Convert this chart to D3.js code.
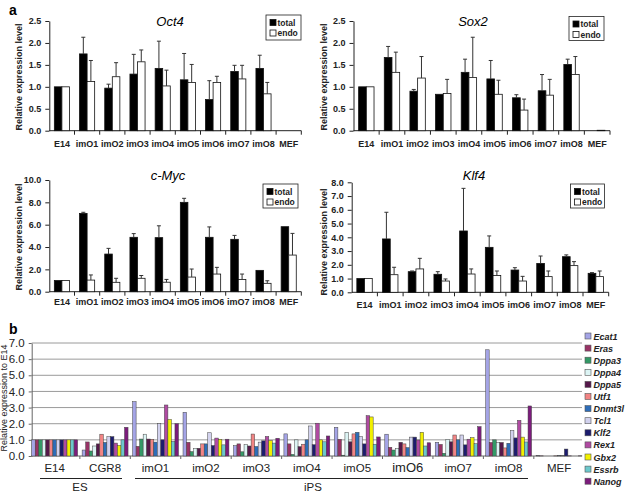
<!DOCTYPE html>
<html><head><meta charset="utf-8">
<script src="https://cdn.jsdelivr.net/npm/d3@7"></script>
<style>body{margin:0;background:#fff} svg{display:block} text{font-family:"Liberation Sans",Arial,sans-serif}</style>
</head><body>
<svg id="c" width="625" height="493"></svg>
<script>
// ---------- Panel a data ----------
const cellLines = ["E14","imO1","imO2","imO3","imO4","imO5","imO6","imO7","imO8","MEF"];
const seriesNames = ["total","endo"];

const oct4Total    = [1.00, 1.75, 0.97, 1.29, 1.42, 1.16, 0.71, 1.35, 1.42, 0];
const oct4TotalErr = [0, 0.38, 0.09, 0.45, 0.62, 0.60, 0.43, 0.14, 0.30, 0];
const oct4Endo     = [1.00, 1.12, 1.23, 1.57, 1.02, 1.10, 1.10, 1.18, 0.84, 0];
const oct4EndoErr  = [0, 0.48, 0.32, 0.27, 0.36, 0.41, 0.14, 0.31, 0.26, 0];

const sox2Total    = [1.00, 1.67, 0.90, 0.83, 1.33, 1.18, 0.75, 0.91, 1.51, 0];
const sox2TotalErr = [0, 0.25, 0.04, 0, 0.30, 0.42, 0.07, 0.37, 0.12, 0];
const sox2Endo     = [1.00, 1.33, 1.20, 0.85, 1.21, 0.83, 0.47, 0.81, 1.28, 0.01];
const sox2EndoErr  = [0, 0.46, 0.49, 0.32, 0.92, 0.32, 0.25, 0.36, 0.41, 0];

const mycTotal     = [1.0, 7.01, 3.37, 4.87, 4.84, 8.0, 4.87, 4.69, 1.91, 5.82];
const mycTotalErr  = [0, 0.10, 0.51, 0.33, 1.06, 0.36, 0.93, 0.35, 0, 0];
const mycEndo      = [1.0, 1.04, 0.84, 1.20, 0.85, 1.31, 1.58, 1.10, 0.75, 3.28];
const mycEndoErr   = [0, 0.46, 0.36, 0.25, 0.25, 0.72, 0.60, 0.48, 0.23, 1.94];

const klf4Total    = [1.0, 3.88, 1.50, 1.31, 4.46, 3.27, 1.62, 2.10, 2.59, 1.38];
const klf4TotalErr = [0, 1.94, 0.05, 0.19, 3.10, 0.83, 0.17, 0.54, 0.13, 0.05];
const klf4Endo     = [1.0, 1.28, 1.70, 0.82, 1.33, 1.22, 0.82, 1.14, 1.94, 1.14];
const klf4EndoErr  = [0, 0.54, 0.77, 0.15, 0.37, 0.33, 0.34, 0.41, 0.29, 0.41];

// ---------- Panel b data ----------
const samples = ["E14","CGR8","imO1","imO2","imO3","imO4","imO5","imO6","imO7","imO8","MEF"];
const genes = ["Ecat1","Eras","Dppa3","Dppa4","Dppa5","Utf1","Dnmt3l","Tcl1","Klf2","Rex1","Gbx2","Essrb","Nanog"];
const ecat1  = [1, 0.37, 3.37, 2.71, 0.64, 1.37, 1.78, 1.35, 0.85, 6.58, 0.03];
const eras   = [1, 0.87, 0.60, 0.85, 0.75, 0.75, 1.03, 0.54, 0.72, 0.84, 0.01];
const dppa3  = [1, 0.31, 1.05, 0.27, 0.26, 0.10, 0.05, 0.37, 0.17, 1.00, 0];
const dppa4  = [1, 0.62, 1.35, 0.46, 0.70, 1.00, 1.46, 0.46, 1.03, 0.84, 0];
const dppa5  = [1, 0.75, 1.05, 0.48, 0.62, 0.58, 0.88, 0.85, 0.88, 0.84, 0];
const utf1   = [1, 1.35, 1.03, 0.75, 1.36, 0.73, 1.37, 0.75, 1.30, 0.50, 0.01];
const dnmt3l = [1, 0.84, 0.86, 0.75, 0.59, 1.00, 1.47, 0.52, 1.00, 0.79, 0.02];
const tcl1   = [1, 1.20, 2.00, 1.44, 0.86, 1.86, 1.20, 1.17, 1.30, 1.58, 0.03];
const klf2   = [1, 1.20, 1.00, 0.65, 0.94, 0.70, 0.75, 1.17, 0.69, 1.12, 0.43];
const rex1   = [1, 0.80, 3.16, 1.11, 1.21, 2.03, 2.50, 0.99, 1.04, 2.21, 0.01];
const gbx2   = [1, 0.66, 2.26, 1.03, 0.96, 1.00, 2.42, 1.47, 1.14, 1.17, 0];
const essrb  = [1, 1.00, 0.90, 0.69, 0.80, 0.88, 0.73, 0.62, 0.76, 0.87, 0];
const nanog  = [1, 1.78, 2.00, 1.04, 1.10, 1.24, 1.18, 0.82, 1.82, 3.10, 0.01];
const geneValues = [ecat1, eras, dppa3, dppa4, dppa5, utf1, dnmt3l, tcl1, klf2, rex1, gbx2, essrb, nanog];
const geneColors = ["#a4a4e6","#993366","#339966","#dcf4f4","#55184a","#f28484","#2e6db8","#d2d2ee","#1c1c6e","#b04aa2","#f2f000","#6cc8cc","#7c1c7c"];
const bTicks = [0,1,2,3,4,5,6,7];

const svg = d3.select("#c");

// ---------- Panel a ----------
function panelA(c) {
  const g = svg.append("g");
  const x = d3.scaleBand().domain(cellLines).range([c.x0, c.x0 + 10 * c.step]).paddingInner(0.4).paddingOuter(0.2);
  const xs = d3.scaleBand().domain(seriesNames).range([0, x.bandwidth()]);
  const y = d3.scaleLinear().domain([0, c.max]).range([c.yBot, c.yTop]);

  const ax = g.append("g").attr("transform", `translate(${c.x0},0)`)
    .call(d3.axisLeft(y).tickValues(d3.range(0, c.max + 1e-9, c.tickStep)).tickFormat(d3.format(".1f")).tickSize(4).tickSizeOuter(0));
  ax.selectAll("text").attr("font-size", 9).attr("font-weight", "bold").attr("fill", "#222").attr("dx", -1);
  ax.selectAll("line,path").attr("stroke", "#222");

  // x axis
  g.append("line").attr("x1", c.x0).attr("x2", c.x0 + 10 * c.step).attr("y1", c.yBot).attr("y2", c.yBot).attr("stroke", "#222");
  g.selectAll(".xt").data(cellLines).join("line")
    .attr("x1", d => x(d) + x.bandwidth() / 2 + c.step / 2).attr("x2", d => x(d) + x.bandwidth() / 2 + c.step / 2)
    .attr("y1", c.yBot).attr("y2", c.yBot + 4).attr("stroke", "#222");
  g.selectAll(".xl").data(cellLines).join("text")
    .attr("x", d => x(d) + x.bandwidth() / 2).attr("y", c.labelY)
    .attr("text-anchor", "middle").attr("font-size", 9).attr("font-weight", "bold").attr("fill", "#222").text(d => d);

  const rows = cellLines.map((d, i) => [
    {cat: d, s: "total", v: c.total[i], e: c.totalErr[i]},
    {cat: d, s: "endo", v: c.endo[i], e: c.endoErr[i]}
  ]).flat();

  g.selectAll(".bar").data(rows).join("rect")
    .attr("x", d => x(d.cat) + xs(d.s)).attr("width", xs.bandwidth())
    .attr("y", d => y(d.v)).attr("height", d => y(0) - y(d.v))
    .attr("fill", d => d.s === "total" ? "#000" : "#fff").attr("stroke", "#111").attr("stroke-width", 0.8);

  const eb = rows.filter(d => d.e > 0);
  g.selectAll(".ew").data(eb).join("line")
    .attr("x1", d => x(d.cat) + xs(d.s) + xs.bandwidth() / 2).attr("x2", d => x(d.cat) + xs(d.s) + xs.bandwidth() / 2)
    .attr("y1", d => y(d.v)).attr("y2", d => y(d.v + d.e)).attr("stroke", "#333");
  g.selectAll(".ec").data(eb).join("line")
    .attr("x1", d => x(d.cat) + xs(d.s) + xs.bandwidth() / 2 - 2).attr("x2", d => x(d.cat) + xs(d.s) + xs.bandwidth() / 2 + 2)
    .attr("y1", d => y(d.v + d.e)).attr("y2", d => y(d.v + d.e)).attr("stroke", "#333");

  g.append("text").attr("x", c.titleX).attr("y", c.titleY).attr("text-anchor", "middle")
    .attr("font-size", 13).attr("font-style", "italic").text(c.title);
  g.append("text").attr("transform", `translate(${c.yTitleX},${c.yTitleY}) rotate(-90)`).attr("text-anchor", "middle")
    .attr("font-size", 9).attr("font-weight", "bold").attr("fill", "#222").text("Relative expression level");

  // legend
  const L = c.legend;
  g.append("rect").attr("x", L.x).attr("y", L.y).attr("width", L.w).attr("height", L.h).attr("fill", "#fff").attr("stroke", "#222").attr("stroke-width", 0.8);
  seriesNames.forEach((s, i) => {
    const cy = L.y + 7.5 + i * 10.5;
    g.append("rect").attr("x", L.x + 4).attr("y", cy - 3).attr("width", 6).attr("height", 6)
      .attr("fill", s === "total" ? "#000" : "#fff").attr("stroke", "#111").attr("stroke-width", 0.8);
    g.append("text").attr("x", L.x + 11.5).attr("y", cy + 3).attr("font-size", 8.5).attr("font-weight", "bold").attr("fill", "#222").text(s);
  });
}

panelA({x0: 49.3, step: 25.2, yTop: 21, yBot: 130.7, max: 2.5, tickStep: 0.5,
  total: oct4Total, totalErr: oct4TotalErr, endo: oct4Endo, endoErr: oct4EndoErr,
  title: "Oct4", titleX: 170, titleY: 26, yTitleX: 22, yTitleY: 77, labelY: 147,
  legend: {x: 266, y: 15, w: 35, h: 25}});
panelA({x0: 353.5, step: 25.65, yTop: 21, yBot: 130.7, max: 2.5, tickStep: 0.5,
  total: sox2Total, totalErr: sox2TotalErr, endo: sox2Endo, endoErr: sox2EndoErr,
  title: "Sox2", titleX: 473, titleY: 26, yTitleX: 327, yTitleY: 77, labelY: 147,
  legend: {x: 569, y: 16.5, w: 35, h: 24}});
panelA({x0: 49.3, step: 25.2, yTop: 180, yBot: 291.7, max: 10, tickStep: 2,
  total: mycTotal, totalErr: mycTotalErr, endo: mycEndo, endoErr: mycEndoErr,
  title: "c-Myc", titleX: 168, titleY: 180, yTitleX: 22, yTitleY: 237, labelY: 305,
  legend: {x: 263, y: 184, w: 35, h: 24}});
panelA({x0: 351.7, step: 25.7, yTop: 182.3, yBot: 292.3, max: 8, tickStep: 1,
  total: klf4Total, totalErr: klf4TotalErr, endo: klf4Endo, endoErr: klf4EndoErr,
  title: "Klf4", titleX: 474, titleY: 180, yTitleX: 327, yTitleY: 242, labelY: 308,
  legend: {x: 570.5, y: 184, w: 34, h: 24}});

svg.append("text").attr("x", 9).attr("y", 15).attr("font-size", 14).attr("font-weight", "bold").text("a");
svg.append("text").attr("x", 9).attr("y", 334).attr("font-size", 14).attr("font-weight", "bold").text("b");

// ---------- Panel b ----------
(function () {
  const g = svg.append("g");
  const left = 31.7, right = 582;
  const x0 = d3.scaleBand().domain(samples).range([left, right]).paddingInner(0.09).paddingOuter(0);
  const x1 = d3.scaleBand().domain(genes).range([0, x0.bandwidth()]);
  const y = d3.scaleLinear().domain([0, 7]).range([456, 343]);

  g.selectAll(".grid").data(bTicks.slice(1)).join("line")
    .attr("x1", left).attr("x2", right).attr("y1", d => y(d)).attr("y2", d => y(d)).attr("stroke", "#9a9a9a");
  const ax = g.append("g").attr("transform", `translate(${left},0)`)
    .call(d3.axisLeft(y).tickValues(bTicks).tickFormat(d3.format(".1f")).tickSize(3).tickSizeOuter(0));
  ax.selectAll("text").attr("font-size", 11.5).attr("fill", "#222").attr("dx", -1);
  ax.selectAll("line,path").attr("stroke", "#666");
  g.append("line").attr("x1", left).attr("x2", right).attr("y1", y(0)).attr("y2", y(0)).attr("stroke", "#666");
  g.selectAll(".bt").data(samples.slice(1)).join("line")
    .attr("x1", d => x0(d) - x0.step() * 0.045).attr("x2", d => x0(d) - x0.step() * 0.045)
    .attr("y1", y(0)).attr("y2", y(0) + 3).attr("stroke", "#666");

  const rows = [];
  samples.forEach((s, i) => genes.forEach((gn, j) => rows.push({s, gn, j, v: geneValues[j][i]})));
  g.selectAll(".bb").data(rows).join("rect")
    .attr("x", d => x0(d.s) + x1(d.gn)).attr("width", x1.bandwidth())
    .attr("y", d => y(d.v)).attr("height", d => y(0) - y(d.v))
    .attr("fill", d => geneColors[d.j]).attr("stroke", "#444").attr("stroke-width", 0.5);

  g.selectAll(".bl").data(samples).join("text")
    .attr("x", d => x0(d) + x0.bandwidth() / 2).attr("y", 472)
    .attr("text-anchor", "middle").attr("font-size", d => d === "imO6" ? 13 : 11.5).attr("fill", "#222").text(d => d);

  g.append("text").attr("transform", "translate(7,398) rotate(-90)").attr("text-anchor", "middle")
    .attr("font-size", 9).attr("fill", "#222").text("Relative expression to E14");

  // group brackets
  g.append("line").attr("x1", 40).attr("x2", 122).attr("y1", 478.5).attr("y2", 478.5).attr("stroke", "#222");
  g.append("line").attr("x1", 135).attr("x2", 528).attr("y1", 478.5).attr("y2", 478.5).attr("stroke", "#222");
  g.append("text").attr("x", 80).attr("y", 491).attr("text-anchor", "middle").attr("font-size", 11.5).attr("fill", "#222").text("ES");
  g.append("text").attr("x", 313).attr("y", 491).attr("text-anchor", "middle").attr("font-size", 11.5).attr("fill", "#222").text("iPS");

  // legend
  genes.forEach((gn, j) => {
    const cy = 336 + j * 12.1;
    g.append("rect").attr("x", 585).attr("y", cy - 3).attr("width", 6).attr("height", 6)
      .attr("fill", geneColors[j]).attr("stroke", "#555").attr("stroke-width", 0.6);
    g.append("text").attr("x", 593.5).attr("y", cy + 3.5).attr("font-size", 9).attr("font-weight", "bold")
      .attr("font-style", "italic").attr("fill", "#222").text(gn);
  });
})();
</script>
</body></html>
